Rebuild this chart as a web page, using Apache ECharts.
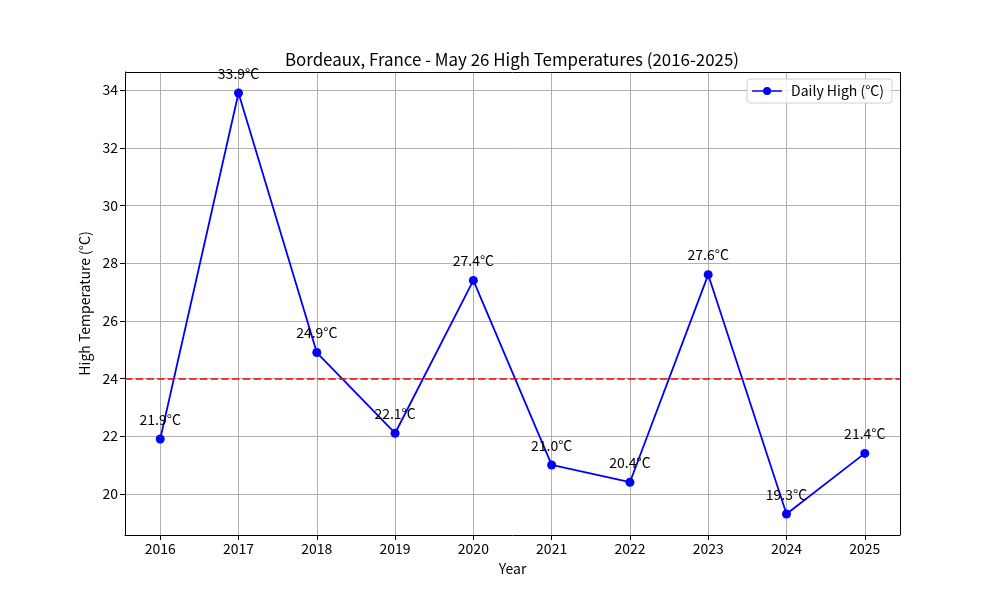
<!DOCTYPE html>
<html>
<head>
<meta charset="utf-8">
<script src="https://cdn.jsdelivr.net/npm/echarts@6/dist/echarts.min.js"></script>
<style>
  html, body { margin: 0; padding: 0; background: #fff; }
  #chart { width: 1000px; height: 600px; }
</style>
</head>
<body>
<div id="chart"></div>
<script>
// 数据
var years = [2016, 2017, 2018, 2019, 2020, 2021, 2022, 2023, 2024, 2025];
var highs = [21.9, 33.9, 24.9, 22.1, 27.4, 21.0, 20.4, 27.6, 19.3, 21.4];
var yTicks = [20, 22, 24, 26, 28, 30, 32, 34];
var meanHigh = 23.99;

var font = '"Noto Sans CJK JP", "Noto Sans", sans-serif';
var myChart = echarts.init(document.getElementById('chart'));

var points = years.map(function (y, i) { return [y, highs[i]]; });

var option = {
    animation: false,
    backgroundColor: '#fff',
    textStyle: { fontFamily: font },
    title: {
        text: 'Bordeaux, France - May 26 High Temperatures (2016-2025)',
        left: 507, top: 46, textAlign: 'center',
        textStyle: { fontSize: 16.9, fontWeight: 'normal', color: '#000', fontFamily: font }
    },
    legend: {
        right: 108, top: 79,
        orient: 'vertical',
        padding: [5, 8, 5, 5],
        borderColor: '#d0d0d0', borderWidth: 1, borderRadius: 3,
        backgroundColor: 'rgba(255,255,255,0.8)',
        itemWidth: 30, itemHeight: 10, itemGap: 5,
        textStyle: { fontSize: 14, color: '#000', fontFamily: font, padding: [0, 0, 0, 4] },
        data: [{ name: 'Daily High (°C)', icon: 'path://M0,4.2 L30,4.2 L30,5.8 L0,5.8 Z M15,1 A4,4 0 1,1 14.99,1 Z' }]
    },
    grid: { left: 125, right: 100, top: 72, bottom: 65, containLabel: false },
    xAxis: {
        type: 'value',
        min: 2015.55, max: 2025.45,
        name: 'Year', nameLocation: 'middle', nameGap: 27,
        nameTextStyle: { fontSize: 14, color: '#000', fontFamily: font },
        axisLine: { show: true, onZero: false, lineStyle: { color: '#000', width: 1 } },
        axisTick: { show: true, length: 5, lineStyle: { color: '#000' }, customValues: years },
        axisLabel: { color: '#000', fontSize: 14, margin: 7, customValues: years, formatter: function (v) { return String(v); } },
        splitLine: { show: true, lineStyle: { color: '#b0b0b0', width: 1 } }
    },
    yAxis: {
        type: 'value',
        min: 18.57, max: 34.63,
        name: 'High Temperature (°C)', nameLocation: 'middle', nameGap: 32,
        nameTextStyle: { fontSize: 14, color: '#000', fontFamily: font },
        axisLine: { show: true, lineStyle: { color: '#000', width: 1 } },
        axisTick: { show: true, length: 5, lineStyle: { color: '#000' }, customValues: yTicks },
        axisLabel: { color: '#000', fontSize: 14, margin: 7, customValues: yTicks },
        splitLine: { show: true, lineStyle: { color: '#b0b0b0', width: 1 } }
    },
    series: [
        {
            name: 'Daily High (°C)',
            type: 'line',
            data: points,
            symbol: 'circle',
            symbolSize: 9,
            color: '#0000ff',
            lineStyle: { color: '#0000ff', width: 1.8 },
            itemStyle: { color: '#0000ff' },
            label: {
                show: true, position: 'top', distance: 8,
                color: '#000', fontSize: 14, fontFamily: font,
                formatter: function (p) { return p.value[1].toFixed(1) + '°C'; }
            },
            markLine: {
                silent: true, symbol: 'none',
                label: { show: false },
                lineStyle: { color: '#ff0000', type: [7.5, 3.2], width: 1.6 },
                data: [{ yAxis: meanHigh }]
            },
            z: 3
        },
        {
            // 右上边框
            type: 'line', data: [], silent: true,
            markLine: {
                silent: true, symbol: 'none', label: { show: false },
                lineStyle: { color: '#000', type: 'solid', width: 1 },
                data: [{ xAxis: 2025.45 }, { yAxis: 34.63 }]
            }
        }
    ]
};
myChart.setOption(option);
</script>
</body>
</html>
